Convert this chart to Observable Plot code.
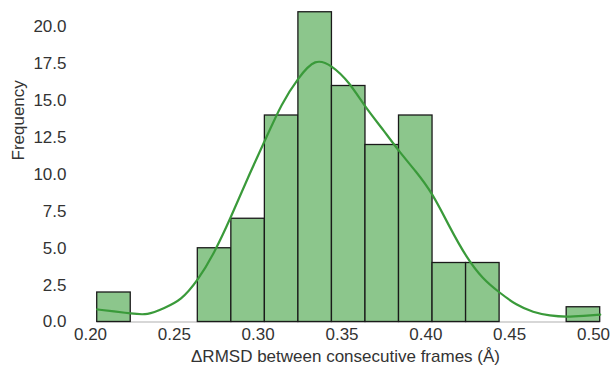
<!DOCTYPE html>
<html>
<head>
<meta charset="utf-8">
<script src="https://cdn.jsdelivr.net/npm/d3@7"></script>
<script src="https://cdn.jsdelivr.net/npm/@observablehq/plot@0.6"></script>
<style>
  html, body { margin: 0; padding: 0; background: #fff; }
  #chart svg { display: block; }
</style>
</head>
<body>
<div id="chart"></div>
<script>
// Histogram bins (ΔRMSD, Å) and counts
const binStart = [0.204, 0.224, 0.244, 0.264, 0.284, 0.304, 0.324, 0.344, 0.364, 0.384, 0.404, 0.424, 0.444, 0.464, 0.484];
const binEnd   = [0.224, 0.244, 0.264, 0.284, 0.304, 0.324, 0.344, 0.364, 0.384, 0.404, 0.424, 0.444, 0.464, 0.484, 0.504];
const counts   = [2, 0, 0, 5, 7, 14, 21, 16, 12, 14, 4, 4, 0, 0, 1];

// KDE curve (frequency scale)
const kdeX = [0.204, 0.214, 0.224, 0.234, 0.244, 0.254, 0.264, 0.274, 0.284, 0.294, 0.304, 0.314, 0.324, 0.334, 0.344, 0.354, 0.364, 0.374, 0.384, 0.394, 0.404, 0.414, 0.424, 0.434, 0.444, 0.454, 0.464, 0.474, 0.484, 0.494, 0.504];
const kdeY = [0.85, 0.72, 0.58, 0.55, 0.95, 1.6, 2.9, 4.8, 7.2, 9.8, 12.3, 14.7, 16.5, 17.6, 17.3, 16.2, 14.6, 13.1, 11.6, 10.2, 8.6, 6.5, 4.5, 3.0, 2.0, 1.2, 0.7, 0.45, 0.37, 0.42, 0.5];

const xTicks = [0.20, 0.25, 0.30, 0.35, 0.40, 0.45, 0.50];
const yTicks = [0, 2.5, 5, 7.5, 10, 12.5, 15, 17.5, 20];

const xLabel = "ΔRMSD between consecutive frames (Å)";
const yLabel = "Frequency";

const bars = counts.map((c, i) => ({x1: binStart[i], x2: binEnd[i], y: c}));
const kde = kdeX.map((x, i) => ({x, y: kdeY[i]}));

const textColor = "#333333";

const chart = Plot.plot({
  width: 612,
  height: 368,
  marginLeft: 90,
  marginRight: 19,
  marginTop: 26.5,
  marginBottom: 46.5,
  style: {fontFamily: "'Liberation Sans', Arial, sans-serif", fontSize: "17px", color: textColor, background: "#fff"},
  x: {domain: [0.2, 0.5]},
  y: {domain: [0, 20]},
  marks: [
    Plot.ruleY([0], {x1: binStart[0], x2: binEnd[binEnd.length - 1], stroke: "#b0b0b0", strokeWidth: 1.2}),
    Plot.rectY(bars.filter(d => d.y > 0), {x1: "x1", x2: "x2", y: "y", fill: "#8cc68c", stroke: "#1a1a1a", strokeWidth: 1.3}),
    Plot.line(kde, {x: "x", y: "y", stroke: "#3a9a3a", strokeWidth: 2.2, curve: "natural"}),
    Plot.axisX({ticks: xTicks, tickFormat: d3.format(".2f"), tickSize: 0, tickPadding: 5.5, label: null, fontSize: 17}),
    Plot.axisY({ticks: yTicks, tickFormat: d3.format(".1f"), tickSize: 0, tickPadding: 24, label: null, fontSize: 17}),
    Plot.text([xLabel], {frameAnchor: "bottom", dx: 3.5, dy: 35, text: d => d, fontSize: 17, fill: textColor, lineAnchor: "middle"}),
    Plot.text([yLabel], {frameAnchor: "left", dx: -72, dy: -14, rotate: -90, text: d => d, fontSize: 17, fill: textColor, lineAnchor: "middle"})
  ]
});
document.getElementById("chart").appendChild(chart);
</script>
</body>
</html>
